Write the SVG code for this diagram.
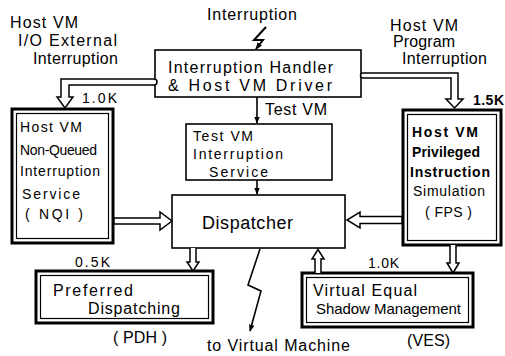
<svg xmlns="http://www.w3.org/2000/svg" width="505" height="356" viewBox="0 0 505 356">
  <style>
    text { font-family: "Liberation Sans", Arial, sans-serif; fill: #000; }
    .box { fill: #fff; stroke: #000; stroke-width: 1.6; }
    .heavy { fill: #fff; stroke: #000; stroke-width: 3; }
    .inner { fill: none; stroke: #000; stroke-width: 1.2; }
    .hollow { fill: #fff; stroke: #000; stroke-width: 1.5; stroke-linejoin: miter; }
    .wire { fill: none; stroke: #000; stroke-width: 1.6; }
    .bolt { fill: none; stroke: #000; stroke-width: 2; stroke-linejoin: miter; }
    .lbl { font-size: 16px; }
    .sm { font-size: 14px; }
    .k { font-size: 14px; }
    .b { font-weight: bold; }
  </style>
  <defs>
    <marker id="head" viewBox="0 0 10 10" refX="9" refY="5" markerWidth="7" markerHeight="7" orient="auto" markerUnits="userSpaceOnUse">
      <path d="M0,1 L10,5 L0,9 Z" fill="#000"/>
    </marker>
  </defs>

  <rect width="505" height="356" fill="#fff"/>

  <!-- free labels -->
  <g id="labels">
    <text class="lbl" x="207" y="20" textLength="90">Interruption</text>
    <text class="lbl" x="10" y="28" textLength="68">Host VM</text>
    <text class="lbl" x="18" y="46" textLength="99">I/O External</text>
    <text class="lbl" x="33" y="64" textLength="85">Interruption</text>
    <text class="k" x="82" y="103" textLength="35">1.0K</text>
    <text class="lbl" x="390" y="31" textLength="68">Host VM</text>
    <text class="lbl" x="393" y="47" textLength="62">Program</text>
    <text class="lbl" x="402" y="64" textLength="85">Interruption</text>
    <text class="k b" x="473" y="105" textLength="31">1.5K</text>
    <text class="lbl" x="265" y="115" textLength="62">Test VM</text>
    <text class="k" x="75" y="267" textLength="35">0.5K</text>
    <text class="k" x="368" y="268" textLength="31">1.0K</text>
    <text class="lbl" x="113" y="343" textLength="54">( PDH )</text>
    <text class="lbl" x="407" y="346" textLength="43">(VES)</text>
    <text class="lbl" x="207" y="351" textLength="143">to Virtual Machine</text>
  </g>

  <!-- nodes -->
  <g id="handler">
    <rect class="box" x="155" y="50" width="206" height="47"/>
    <text class="lbl" x="168" y="73" textLength="165">Interruption  Handler</text>
    <text class="lbl" x="168" y="91" textLength="164">&amp; Host VM  Driver</text>
  </g>

  <g id="test-vm">
    <rect class="box" x="186" y="124" width="146" height="56"/>
    <text class="sm" x="193" y="141" textLength="60">Test VM</text>
    <text class="sm" x="193" y="159" textLength="90">Interruption</text>
    <text class="sm" x="209" y="177" textLength="59">Service</text>
  </g>

  <g id="dispatcher">
    <rect class="box" x="172" y="195" width="173" height="53"/>
    <text x="202" y="229" font-size="18" textLength="91">Dispatcher</text>
  </g>

  <g id="nqi">
    <rect class="heavy" x="12" y="109" width="101" height="134"/>
    <rect class="inner" x="16.5" y="113.5" width="92" height="125"/>
    <text class="sm" x="20" y="132" textLength="62">Host VM</text>
    <text class="sm" x="20" y="155" textLength="77">Non-Queued</text>
    <text class="sm" x="20" y="176" textLength="80">Interruption</text>
    <text class="sm" x="22" y="199" textLength="58">Service</text>
    <text class="sm" x="25" y="219" textLength="58">( NQI )</text>
  </g>

  <g id="fps">
    <rect class="heavy" x="403" y="110" width="98" height="135"/>
    <rect class="inner" x="407.5" y="114.5" width="89" height="126"/>
    <text class="sm b" x="412" y="137" textLength="66">Host VM</text>
    <text class="sm b" x="412" y="157" textLength="68">Privileged</text>
    <text class="sm b" x="410" y="177" textLength="80">Instruction</text>
    <text class="sm" x="413" y="196" textLength="72">Simulation</text>
    <text class="sm" x="425" y="217" textLength="47">( FPS )</text>
  </g>

  <g id="pdh">
    <rect class="heavy" x="36" y="271" width="177" height="52"/>
    <rect class="inner" x="40.5" y="275.5" width="168" height="43"/>
    <text class="lbl" x="53" y="296" textLength="80">Preferred</text>
    <text class="lbl" x="88" y="314" textLength="92">Dispatching</text>
  </g>

  <g id="ves">
    <rect class="heavy" x="302" y="273" width="171" height="54"/>
    <rect class="inner" x="306.5" y="277.5" width="162" height="45"/>
    <text class="lbl" x="313" y="296" textLength="104">Virtual  Equal</text>
    <text x="316" y="314" font-size="15" textLength="145">Shadow Management</text>
  </g>

  <!-- connectors -->
  <g id="connectors">
    <!-- incoming interruption -->
    <path class="bolt" d="M266,27 L254,40 L263,40 L256,49" marker-end="url(#head)"/>
    <!-- handler to test VM service, then to dispatcher -->
    <line class="wire" x1="257" y1="97" x2="257" y2="123" marker-end="url(#head)"/>
    <line class="wire" x1="257" y1="180" x2="257" y2="194" marker-end="url(#head)"/>
    <!-- dispatcher out to the virtual machine -->
    <path class="wire" d="M260,249 L248,285 L261,291 L250,331" marker-end="url(#head)"/>

    <!-- I/O external interruption: handler to NQI -->
    <path class="hollow" d="M154,79 L61,79 L61,97 L57,97 L65,108 L73,97 L69,97 L69,85 L154,85 A3,3 0 0 0 154,79 Z"/>
    <!-- program interruption: handler to FPS -->
    <path class="hollow" d="M363,73 L458,73 L458,99 L463,99 L454.5,108 L446,99 L451,99 L451,78 L363,78 A2.5,2.5 0 0 1 363,73 Z"/>

    <!-- NQI to dispatcher -->
    <path class="hollow" d="M114,218 L160,218 L160,212 L172,221 L160,230 L160,224 L114,224 Z"/>
    <!-- FPS to dispatcher -->
    <path class="hollow" d="M402,216.5 L360,216.5 L360,212 L347,220 L360,228 L360,223.5 L402,223.5 Z"/>

    <!-- dispatcher to PDH -->
    <path class="hollow" d="M190,248 L190,262 L187,262 L193,271 L199,262 L196,262 L196,248"/>
    <!-- VES to dispatcher -->
    <path class="hollow" d="M315,273 L315,259 L312,259 L318,249.5 L324,259 L321,259 L321,273"/>
    <!-- FPS to VES -->
    <path class="hollow" d="M450,245 L450,263 L447,263 L453,273 L459,263 L456,263 L456,245"/>
  </g>
</svg>
